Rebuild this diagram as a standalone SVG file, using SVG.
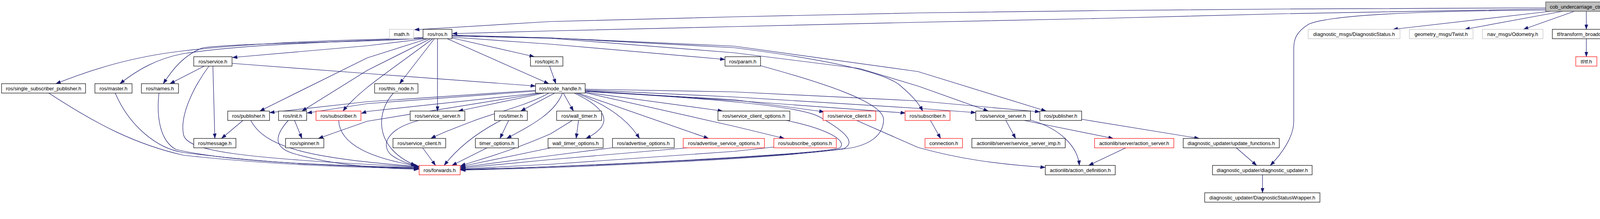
<svg xmlns="http://www.w3.org/2000/svg" width="5625" height="560" viewBox="0 0 5625 560">
<style>
rect{fill:#fff;stroke:#000;stroke-width:1.2}
.g rect{stroke:#bfbfbf}
.r rect{stroke:#ff0000}
.root rect{fill:#bfbfbf;stroke:#404040}
text{font-family:"Liberation Sans",Arial,Helvetica,sans-serif;font-size:13px;text-anchor:middle;fill:#000}
#edges path{fill:none;stroke:#191970;stroke-width:1.2;marker-end:url(#a)}
</style>
<defs>
<marker id="a" markerWidth="13" markerHeight="9" refX="12.5" refY="4.5" orient="auto" markerUnits="userSpaceOnUse"><path d="M0,0 L12.5,4.5 L0,9 z" fill="#191970" stroke="#191970" stroke-width="0.5"/></marker>
</defs>
<rect x="0" y="0" width="5625" height="560" style="fill:#fff;stroke:none"/>
<g id="edges">
<path d="M3957,20 L3290,23 L2820,27 L2350,33 L1880,43 L1410,55 L1061,76"/>
<path d="M3957,23 L3290,35 L2820,47 L2350,57 L1880,68 L1410,79 L1158,86"/>
<path d="M3957,26 C3600,28 3400,40 3350,62 C3318,82 3312,100 3312,125 L3312,310 C3312,350 3282,392 3252,423"/>
<path d="M3968,29 L3566,75"/>
<path d="M4000,29 L3750,75"/>
<path d="M4030,29 L3900,75"/>
<path d="M4061,29 L4061,75"/>
<path d="M4097,29 L4250,75"/>
<path d="M4140,29 L4486,75"/>
<path d="M4166,18 L4230,18 L4700,27 L5170,47 L5508,76"/>
<path d="M4166,20 L4230,21 L4700,32 L5170,52 L5423,76"/>
<path d="M4166,23 L4230,27 L4700,50 L5109,75"/>
<path d="M4166,27 L4230,32 L4700,68 L4773,75"/>
<path d="M4908,99 L4908,145"/>
<path d="M4061,99 L4061,145"/>
<path d="M1083,96 C900,104 700,104 470,130 C330,146 230,180 143,214"/>
<path d="M1083,97 C900,107 650,110 470,137 C400,150 350,180 307,214"/>
<path d="M1083,98 C900,110 650,108 520,122 C470,140 440,180 418,214"/>
<path d="M1090,99 L940,117 L595,147"/>
<path d="M1095,99 L940,148 L665,284"/>
<path d="M1102,99 L940,180 L773,284"/>
<path d="M1108,99 C1000,180 920,230 878,284"/>
<path d="M1112,99 L1023,214"/>
<path d="M1120,99 L1120,284"/>
<path d="M1145,99 L1405,214"/>
<path d="M1157,97 L1368,145"/>
<path d="M1157,95 L1410,113 L1856,152"/>
<path d="M1157,90 L1410,97 L1880,118 L2350,183 L2678,284"/>
<path d="M1157,92 L1410,98 L1880,135 L2200,175 L2350,220 L2530,284"/>
<path d="M1157,91 L1410,97 L1880,122 C2100,150 2250,180 2300,215 C2330,240 2350,260 2362,284"/>
<path d="M545,169 L550,354"/>
<path d="M523,169 L435,214"/>
<path d="M594,162 L940,188 L1371,220"/>
<path d="M535,169 C490,230 460,300 470,345 C480,385 600,405 1072,427"/>
<path d="M1371,231 L940,260 L690,288"/>
<path d="M1371,233 L940,265 L786,289"/>
<path d="M1378,238 L940,285 L925,290"/>
<path d="M1385,238 L940,310 L815,354"/>
<path d="M1393,238 L1173,284"/>
<path d="M1405,238 C1350,270 1260,290 1210,310 C1170,325 1130,340 1103,354"/>
<path d="M1420,238 L1333,284"/>
<path d="M1440,238 C1420,290 1360,320 1297,354"/>
<path d="M1442,238 L1468,284"/>
<path d="M1470,238 C1560,280 1570,320 1500,354"/>
<path d="M1475,238 C1560,270 1610,310 1637,354"/>
<path d="M1480,238 L1814,354"/>
<path d="M1498,236 L1850,284"/>
<path d="M1498,237 L1880,323 L2008,354"/>
<path d="M1498,233 L1880,255 L2110,286"/>
<path d="M1498,232 L1880,257 L2318,289"/>
<path d="M1498,230 L1880,248 L2350,277 L2498,288"/>
<path d="M1498,228 L1880,235 L2350,258 L2662,286"/>
<path d="M1498,234 C1800,250 2050,270 2100,300 C2170,340 2190,365 2160,380 C2000,402 1500,426 1179,433"/>
<path d="M125,238 C250,320 350,370 470,397 C700,422 900,428 1072,431"/>
<path d="M295,238 C330,320 400,380 470,390 C700,420 900,426 1072,430"/>
<path d="M407,238 C400,300 410,360 450,382 C600,418 900,424 1072,429"/>
<path d="M642,308 C680,380 800,405 1072,426"/>
<path d="M738,308 C700,350 700,380 760,395 C850,420 950,430 1072,433"/>
<path d="M867,308 C870,370 950,405 1072,425"/>
<path d="M1007,238 C960,290 960,380 1064,423"/>
<path d="M1072,308 C990,330 975,370 1000,395 C1020,410 1040,418 1066,424"/>
<path d="M1082,378 L1115,423"/>
<path d="M1282,308 C1220,340 1170,380 1137,423"/>
<path d="M1247,378 L1157,423"/>
<path d="M1465,308 L1410,342 C1300,390 1220,410 1179,424"/>
<path d="M1410,378 L1179,426"/>
<path d="M1567,378 L1410,398 L1179,428"/>
<path d="M1760,378 L1410,408 L1179,430"/>
<path d="M1981,376 L1880,387 L1410,420 L1179,432"/>
<path d="M2013,308 C2120,330 2170,360 2150,378 C2100,395 1500,425 1179,434"/>
<path d="M1947,168 C2100,210 2260,260 2262,305 C2262,350 2220,370 2180,378 C2000,405 1500,428 1179,435"/>
<path d="M622,308 L567,354"/>
<path d="M754,308 L773,354"/>
<path d="M1407,169 L1423,214"/>
<path d="M1481,308 L1475,354"/>
<path d="M1302,308 L1280,354"/>
<path d="M2382,308 L2408,354"/>
<path d="M2575,308 L2600,354"/>
<path d="M2638,307 C2720,330 2760,380 2763,423"/>
<path d="M2622,308 L2850,354"/>
<path d="M2193,308 L2350,377 C2450,405 2550,420 2676,428"/>
<path d="M2882,378 L2787,423"/>
<path d="M2769,305 L3070,354"/>
<path d="M3165,378 L3217,423"/>
<path d="M3232,447 L3232,493"/>
</g>
<g id="n_cpp" class="root"><rect x="3957" y="5" width="209" height="24"/><text x="4061.5" y="22">cob_undercarriage_ctrl_new.cpp</text></g>
<g id="n_math" class="g"><rect x="997" y="75" width="62" height="24"/><text x="1028" y="92">math.h</text></g>
<g id="n_ros"><rect x="1083" y="75" width="74" height="24"/><text x="1120" y="92">ros/ros.h</text></g>
<g id="n_diagstatus" class="g"><rect x="3349" y="75" width="235" height="24"/><text x="3466.5" y="92">diagnostic_msgs/DiagnosticStatus.h</text></g>
<g id="n_twist" class="g"><rect x="3608" y="75" width="163" height="24"/><text x="3689.5" y="92">geometry_msgs/Twist.h</text></g>
<g id="n_odom" class="g"><rect x="3795" y="75" width="155" height="24"/><text x="3872.5" y="92">nav_msgs/Odometry.h</text></g>
<g id="n_tfbc"><rect x="3974" y="75" width="175" height="24"/><text x="4061.5" y="92">tf/transform_broadcaster.h</text></g>
<g id="n_estop" class="g"><rect x="4173" y="75" width="222" height="24"/><text x="4284" y="92">cob_msgs/EmergencyStopState.h</text></g>
<g id="n_jtcs" class="g"><rect x="4419" y="75" width="288" height="24"/><text x="4563" y="92">control_msgs/JointTrajectoryControllerState.h</text></g>
<g id="n_geomros"><rect x="4730" y="75" width="355" height="24"/><text x="4907.5" y="92">cob_omni_drive_controller/UndercarriageCtrlGeomROS.h</text></g>
<g id="n_odomtr"><rect x="5110" y="75" width="289" height="24"/><text x="5254.5" y="92">cob_omni_drive_controller/OdometryTracker.h</text></g>
<g id="n_vector" class="g"><rect x="5424" y="75" width="59" height="24"/><text x="5453.5" y="92">vector</text></g>
<g id="n_angles"><rect x="5507" y="75" width="114" height="24"/><text x="5564" y="92">angles/angles.h</text></g>
<g id="n_service"><rect x="496" y="145" width="98" height="24"/><text x="545" y="162">ros/service.h</text></g>
<g id="n_topic"><rect x="1358" y="145" width="83" height="24"/><text x="1399.5" y="162">ros/topic.h</text></g>
<g id="n_param"><rect x="1856" y="145" width="91" height="24"/><text x="1901.5" y="162">ros/param.h</text></g>
<g id="n_tf" class="r"><rect x="4034" y="145" width="54" height="24"/><text x="4061" y="162">tf/tf.h</text></g>
<g id="n_geom"><rect x="4745" y="145" width="326" height="24"/><text x="4908" y="162">cob_omni_drive_controller/UndercarriageCtrlGeom.h</text></g>
<g id="n_ssp"><rect x="4" y="214" width="215" height="24"/><text x="111.5" y="231">ros/single_subscriber_publisher.h</text></g>
<g id="n_master"><rect x="243" y="214" width="95" height="24"/><text x="290.5" y="231">ros/master.h</text></g>
<g id="n_names"><rect x="362" y="214" width="95" height="24"/><text x="409.5" y="231">ros/names.h</text></g>
<g id="n_thisnode"><rect x="959" y="214" width="111" height="24"/><text x="1014.5" y="231">ros/this_node.h</text></g>
<g id="n_nh"><rect x="1371" y="214" width="127" height="24"/><text x="1434.5" y="231">ros/node_handle.h</text></g>
<g id="n_pub1"><rect x="583" y="284" width="107" height="24"/><text x="636.5" y="301">ros/publisher.h</text></g>
<g id="n_init"><rect x="713" y="284" width="72" height="24"/><text x="749" y="301">ros/init.h</text></g>
<g id="n_sub1" class="r"><rect x="809" y="284" width="115" height="24"/><text x="866.5" y="301">ros/subscriber.h</text></g>
<g id="n_ss1"><rect x="1050" y="284" width="140" height="24"/><text x="1120" y="301">ros/service_server.h</text></g>
<g id="n_timer"><rect x="1266" y="284" width="84" height="24"/><text x="1308" y="301">ros/timer.h</text></g>
<g id="n_walltimer"><rect x="1425" y="284" width="115" height="24"/><text x="1482.5" y="301">ros/wall_timer.h</text></g>
<g id="n_sco"><rect x="1838" y="284" width="184" height="24"/><text x="1930" y="301">ros/service_client_options.h</text></g>
<g id="n_sc2" class="r"><rect x="2107" y="284" width="135" height="24"/><text x="2174.5" y="301">ros/service_client.h</text></g>
<g id="n_sub2" class="r"><rect x="2317" y="284" width="115" height="24"/><text x="2374.5" y="301">ros/subscriber.h</text></g>
<g id="n_ss2"><rect x="2498" y="284" width="140" height="24"/><text x="2568" y="301">ros/service_server.h</text></g>
<g id="n_pub2"><rect x="2662" y="284" width="107" height="24"/><text x="2715.5" y="301">ros/publisher.h</text></g>
<g id="n_message"><rect x="496" y="354" width="108" height="24"/><text x="550" y="371">ros/message.h</text></g>
<g id="n_spinner"><rect x="731" y="354" width="98" height="24"/><text x="780" y="371">ros/spinner.h</text></g>
<g id="n_sc1"><rect x="1006" y="354" width="135" height="24"/><text x="1073.5" y="371">ros/service_client.h</text></g>
<g id="n_timeropt"><rect x="1217" y="354" width="110" height="24"/><text x="1272" y="371">timer_options.h</text></g>
<g id="n_wto"><rect x="1403" y="354" width="141" height="24"/><text x="1473.5" y="371">wall_timer_options.h</text></g>
<g id="n_advopt"><rect x="1568" y="354" width="158" height="24"/><text x="1647" y="371">ros/advertise_options.h</text></g>
<g id="n_advsrv" class="r"><rect x="1749" y="354" width="208" height="24"/><text x="1853" y="371">ros/advertise_service_options.h</text></g>
<g id="n_subopt" class="r"><rect x="1981" y="354" width="160" height="24"/><text x="2061" y="371">ros/subscribe_options.h</text></g>
<g id="n_conn" class="r"><rect x="2368" y="354" width="96" height="24"/><text x="2416" y="371">connection.h</text></g>
<g id="n_ssimp"><rect x="2488" y="354" width="239" height="24"/><text x="2607.5" y="371">actionlib/server/service_server_imp.h</text></g>
<g id="n_as" class="r"><rect x="2802" y="354" width="203" height="24"/><text x="2903.5" y="371">actionlib/server/action_server.h</text></g>
<g id="n_uf"><rect x="3029" y="354" width="246" height="24"/><text x="3152" y="371">diagnostic_updater/update_functions.h</text></g>
<g id="n_fwd" class="r"><rect x="1073" y="423" width="105" height="24"/><text x="1125.5" y="440">ros/forwards.h</text></g>
<g id="n_actdef"><rect x="2676" y="423" width="179" height="24"/><text x="2765.5" y="440">actionlib/action_definition.h</text></g>
<g id="n_du"><rect x="3104" y="423" width="255" height="24"/><text x="3231.5" y="440">diagnostic_updater/diagnostic_updater.h</text></g>
<g id="n_dsw"><rect x="3084" y="493" width="295" height="24"/><text x="3231.5" y="510">diagnostic_updater/DiagnosticStatusWrapper.h</text></g>
</svg>
